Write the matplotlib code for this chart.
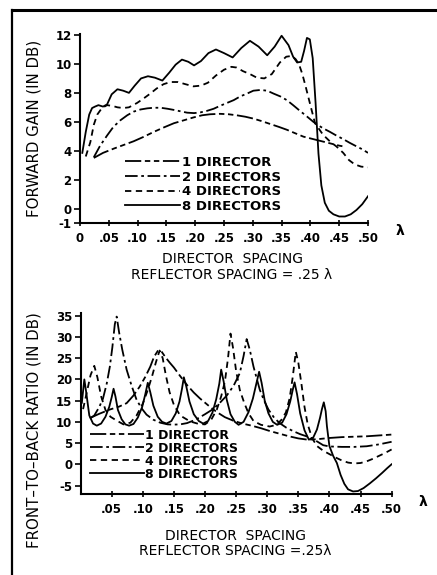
import matplotlib
matplotlib.use('Agg')
from matplotlib import pyplot as plt
from matplotlib.lines import Line2D

# ---- forward gain (top) ----
x1_gain = [0.024, 0.040, 0.059, 0.076, 0.093, 0.110, 0.128, 0.145, 0.163, 0.180, 0.197, 0.212,
           0.226, 0.243, 0.258, 0.272, 0.287, 0.301, 0.315, 0.330, 0.345, 0.359, 0.374, 0.388,
           0.400, 0.410, 0.425, 0.440, 0.450, 0.457]
y1_gain = [3.5, 3.85, 4.15, 4.4, 4.65, 4.95, 5.3, 5.6, 5.9, 6.1, 6.3, 6.45,
           6.52, 6.55, 6.52, 6.45, 6.35, 6.22, 6.05, 5.85, 5.65, 5.45, 5.2, 4.97,
           4.85, 4.75, 4.6, 4.45, 4.35, 4.3]

x2_gain = [0.024, 0.035, 0.047, 0.058, 0.070, 0.082, 0.093, 0.105, 0.117, 0.128, 0.140, 0.152,
           0.163, 0.175, 0.186, 0.198, 0.209, 0.220, 0.232, 0.243, 0.255, 0.267, 0.278, 0.290,
           0.301, 0.313, 0.325, 0.336, 0.348, 0.359, 0.370, 0.382, 0.393, 0.405, 0.414, 0.422,
           0.434, 0.445, 0.457, 0.468, 0.480, 0.490, 0.500]
y2_gain = [3.55, 4.35, 5.05, 5.65, 6.1, 6.45, 6.7, 6.85, 6.93, 6.97, 6.97, 6.9,
           6.82, 6.72, 6.63, 6.6, 6.65, 6.75, 6.9, 7.1, 7.3, 7.5, 7.75, 7.95,
           8.15, 8.2, 8.15, 7.95, 7.75, 7.5, 7.15, 6.75, 6.4, 6.0, 5.75, 5.55,
           5.3, 5.05, 4.8, 4.55, 4.3, 4.1, 3.85]

x4_gain = [0.010, 0.018, 0.024, 0.030, 0.038, 0.047, 0.056, 0.065, 0.075, 0.085, 0.099, 0.110,
           0.122, 0.133, 0.145, 0.157, 0.170, 0.183, 0.197, 0.210, 0.222, 0.236, 0.250, 0.263,
           0.272, 0.283, 0.295, 0.307, 0.320, 0.333, 0.347, 0.358, 0.367, 0.374, 0.380, 0.386,
           0.392, 0.399, 0.408, 0.422, 0.435, 0.445, 0.457, 0.467, 0.477, 0.488, 0.500]
y4_gain = [3.6, 4.6, 5.8, 6.5, 6.95, 7.15, 7.1, 7.0, 6.95, 7.0, 7.3, 7.6,
           7.95, 8.3, 8.6, 8.75, 8.75, 8.6, 8.45, 8.5, 8.7, 9.2, 9.6, 9.8,
           9.75, 9.5, 9.3, 9.05, 9.0, 9.3, 10.1, 10.5, 10.55, 10.35, 10.0, 9.3,
           8.4, 7.3, 5.9, 5.1, 4.6, 4.3, 3.85, 3.35, 3.05, 2.9, 2.85]

x8_gain = [0.004, 0.010, 0.016, 0.021, 0.026, 0.032, 0.040, 0.047, 0.055, 0.065, 0.075, 0.085,
           0.095, 0.106, 0.118, 0.130, 0.143, 0.155, 0.166, 0.177, 0.188, 0.198, 0.210, 0.223,
           0.236, 0.250, 0.265, 0.280, 0.295, 0.310, 0.325, 0.338, 0.350, 0.362, 0.370, 0.377,
           0.384, 0.389, 0.394, 0.399, 0.404, 0.409, 0.414, 0.419, 0.425, 0.432, 0.440, 0.450,
           0.460, 0.470, 0.480, 0.490, 0.500]
y8_gain = [3.85, 5.3, 6.5, 6.95, 7.05, 7.15, 7.05, 7.2, 7.9, 8.25, 8.15, 8.0,
           8.5, 9.0, 9.15, 9.05, 8.85, 9.4, 9.95, 10.3, 10.15, 9.9, 10.2, 10.75,
           11.0, 10.75, 10.45, 11.1, 11.6, 11.2, 10.6, 11.2, 11.95, 11.3, 10.5, 10.1,
           10.15, 10.9, 11.8, 11.7, 10.4, 7.3, 3.8, 1.6, 0.4, -0.15, -0.4, -0.55,
           -0.55, -0.4, -0.1, 0.3, 0.85]

# ---- front-to-back ratio (bottom) ----
x1_fb = [0.015, 0.030, 0.047, 0.062, 0.074, 0.085, 0.095, 0.104, 0.112, 0.118, 0.124, 0.130,
         0.136, 0.143, 0.150, 0.160, 0.171, 0.182, 0.192, 0.205, 0.219, 0.232, 0.245, 0.260,
         0.275, 0.290, 0.305, 0.320, 0.335, 0.350, 0.365, 0.380, 0.400, 0.420, 0.440, 0.460,
         0.480, 0.500]
y1_fb = [10.9, 11.9, 12.9, 13.6, 14.4, 16.2, 18.3, 20.6, 23.0, 25.3, 26.7, 26.6,
         25.3, 24.0, 22.8, 20.8, 18.7, 16.9, 15.5, 13.9, 12.3, 11.1, 10.3, 9.6,
         9.1, 8.5, 7.8, 7.2, 6.6, 6.1, 5.8, 5.9, 6.2, 6.4, 6.5, 6.6,
         6.8, 7.0]

x2_fb = [0.015, 0.022, 0.030, 0.036, 0.042, 0.047, 0.051, 0.055, 0.058, 0.062, 0.067, 0.074,
         0.082, 0.090, 0.098, 0.106, 0.117, 0.128, 0.140, 0.149, 0.160, 0.171, 0.185, 0.200,
         0.213, 0.224, 0.235, 0.246, 0.256, 0.262, 0.267, 0.272, 0.278, 0.288, 0.295, 0.302,
         0.311, 0.320, 0.331, 0.342, 0.353, 0.363, 0.372, 0.380, 0.390, 0.400, 0.420, 0.440,
         0.460, 0.480, 0.500]
y2_fb = [10.8, 11.5, 13.5, 15.5, 19.0, 23.0, 27.5, 33.0, 34.8, 31.0, 27.0, 22.3,
         18.5, 15.2, 13.2, 11.7, 10.5, 9.8, 9.4, 9.35, 9.4, 9.7, 10.5, 11.8,
         13.0, 14.5, 16.2, 18.5, 21.5, 25.5, 29.5, 27.0, 23.0, 17.6, 15.0, 12.9,
         11.0, 9.7, 8.6, 7.8, 7.1, 6.6, 6.1, 5.4, 4.5, 4.2, 4.1, 4.1,
         4.25, 4.7, 5.3]

x4_fb = [0.004, 0.010, 0.016, 0.022, 0.027, 0.033, 0.040, 0.048, 0.058, 0.069, 0.080, 0.090,
         0.100, 0.108, 0.115, 0.121, 0.127, 0.132, 0.137, 0.143, 0.150, 0.160, 0.176, 0.190,
         0.200, 0.210, 0.219, 0.226, 0.232, 0.237, 0.241, 0.245, 0.250, 0.256, 0.263, 0.270,
         0.278, 0.290, 0.304, 0.315, 0.323, 0.330, 0.336, 0.341, 0.346, 0.350, 0.355, 0.360,
         0.365, 0.372, 0.380, 0.390, 0.400, 0.410, 0.420, 0.430, 0.440, 0.450, 0.460, 0.470,
         0.480, 0.490, 0.500]
y4_fb = [13.0, 17.0, 21.0, 23.2, 20.5, 16.0, 12.8, 11.2, 10.3, 9.4, 9.8, 11.5,
         14.3, 17.5, 20.8, 24.0, 26.8, 25.0, 21.0, 17.0, 14.0, 11.5, 10.1, 9.5,
         9.4, 10.5, 12.9, 16.0, 19.5, 25.0, 30.8, 27.5, 22.0, 17.5, 14.5, 12.0,
         10.2, 9.3, 8.9, 9.3, 10.5, 12.2, 15.5, 20.5, 26.5, 24.0, 19.0, 13.5,
         9.5, 6.2, 4.3, 3.2, 2.4, 1.6, 0.9, 0.4, 0.2, 0.3, 0.7, 1.3,
         2.0, 2.7, 3.5]

x8_fb = [0.002, 0.006, 0.009, 0.014, 0.020, 0.026, 0.033, 0.040, 0.046, 0.050, 0.053, 0.056,
         0.060, 0.066, 0.072, 0.078, 0.085, 0.092, 0.099, 0.104, 0.108, 0.112, 0.117, 0.124,
         0.131, 0.138, 0.146, 0.153, 0.159, 0.163, 0.166, 0.170, 0.175, 0.182, 0.190, 0.197,
         0.205, 0.212, 0.218, 0.223, 0.226, 0.230, 0.235, 0.241, 0.248, 0.254, 0.262, 0.270,
         0.277, 0.283, 0.287, 0.291, 0.296, 0.302, 0.309, 0.316, 0.324, 0.331, 0.337, 0.341,
         0.344, 0.348, 0.353, 0.360, 0.367, 0.374, 0.380, 0.385, 0.388, 0.391, 0.394, 0.396,
         0.400, 0.406, 0.412, 0.418, 0.424, 0.430, 0.438, 0.446, 0.455, 0.465, 0.475, 0.485,
         0.493, 0.500]
y8_fb = [14.5, 20.0, 17.0, 11.5, 9.6, 9.1, 9.6, 11.2, 13.5, 15.8, 17.8, 16.0,
         12.8, 10.6, 9.4, 9.1, 9.5, 11.0, 13.5, 16.5, 19.2, 17.0, 13.8, 11.2,
         10.0, 9.6, 10.2, 12.0, 14.8, 17.8, 20.5, 18.3, 14.8, 11.8, 10.2, 9.6,
         10.2, 12.2, 15.3, 19.0, 22.3, 19.5, 15.2, 11.8, 10.0, 9.3, 10.0, 12.3,
         15.5, 19.3, 21.8, 19.2, 15.0, 12.0, 10.0, 9.3, 9.8, 11.8, 14.8, 17.5,
         19.3, 16.5, 12.0, 8.0, 5.8, 6.3, 8.2, 11.0, 13.0, 14.6, 12.5, 9.0,
         4.3, 2.0, 0.3, -2.5, -4.6, -5.9, -6.4, -6.3, -5.6, -4.5, -3.3, -2.0,
         -0.9, 0.0]

labels = ['1 DIRECTOR', '2 DIRECTORS', '4 DIRECTORS', '8 DIRECTORS']
styles = [(0, (9, 2, 3, 2, 3, 2)), (0, (7, 2, 1.5, 2)), (0, (3.5, 2.5)), '-']

gain_x_ticks = [0, 0.05, 0.10, 0.15, 0.20, 0.25, 0.30, 0.35, 0.40, 0.45, 0.50]
gain_x_labels = ['0', '.05', '.10', '.15', '.20', '.25', '.30', '.35', '.40', '.45', '.50']
gain_y_ticks = [-1, 0, 2, 4, 6, 8, 10, 12]
fb_x_ticks = gain_x_ticks[1:]
fb_x_labels = gain_x_labels[1:]
fb_y_ticks = [-5, 0, 5, 10, 15, 20, 25, 30, 35]

W, H = 437, 575
fig = plt.figure(figsize=(W / 100, H / 100), dpi=100)

ax1 = fig.add_axes([80 / W, 1 - 223 / H, 288 / W, (223 - 34.3) / H])
ax2 = fig.add_axes([80.6 / W, 1 - 494 / H, 311 / W, (494 - 313.2) / H])

gain = [(x1_gain, y1_gain), (x2_gain, y2_gain), (x4_gain, y4_gain), (x8_gain, y8_gain)]
fb = [(x1_fb, y1_fb), (x2_fb, y2_fb), (x4_fb, y4_fb), (x8_fb, y8_fb)]

for (xs, ys), ls, lab in zip(gain, styles, labels):
    ax1.plot(xs, ys, color='black', lw=1.3, linestyle=ls, label=lab)
for (xs, ys), ls, lab in zip(fb, styles, labels):
    ax2.plot(xs, ys, color='black', lw=1.3, linestyle=ls, label=lab)

tick_font = {'fontsize': 8.5, 'fontweight': 'bold'}

ax1.set_xlim(0, 0.5)
ax1.set_ylim(-1, 12.05)
ax1.set_xticks(gain_x_ticks)
ax1.set_xticklabels(gain_x_labels, **tick_font)
ax1.set_yticks(gain_y_ticks)
ax1.set_yticklabels([str(v) for v in gain_y_ticks], **tick_font)

ax2.set_xlim(0, 0.5)
ax2.set_ylim(-7, 35.6)
ax2.set_xticks(fb_x_ticks)
ax2.set_xticklabels(fb_x_labels, **tick_font)
ax2.set_yticks(fb_y_ticks)
ax2.set_yticklabels([str(v) for v in fb_y_ticks], **tick_font)

for ax in (ax1, ax2):
    for side in ('top', 'right'):
        ax.spines[side].set_visible(False)
    for side in ('left', 'bottom'):
        ax.spines[side].set_linewidth(1.5)
    ax.tick_params(axis='x', direction='inout', length=5, width=1.2, pad=4)
    ax.tick_params(axis='y', direction='out', length=4, width=1.2, pad=2)
    ax.set_facecolor('none')

ax1.set_ylabel('FORWARD GAIN (IN DB)', fontsize=10.8)
ax1.yaxis.set_label_coords(-0.135, 0.5)
ax2.set_ylabel('FRONT\u2013TO\u2013BACK RATIO (IN DB)', fontsize=10.8)
ax2.yaxis.set_label_coords(-0.127, 0.355)

ax1.set_xlabel('DIRECTOR  SPACING\nREFLECTOR SPACING = .25 \u03bb', fontsize=10, linespacing=1.2)
ax1.xaxis.set_label_coords(0.528, -0.155)
ax2.set_xlabel('DIRECTOR  SPACING\nREFLECTOR SPACING =.25\u03bb', fontsize=10, linespacing=1.1)
ax2.xaxis.set_label_coords(0.497, -0.195)

fig.text(400 / W, 1 - 231 / H, '\u03bb', fontsize=10, fontweight='bold', ha='center', va='center')
fig.text(423 / W, 1 - 502 / H, '\u03bb', fontsize=10, fontweight='bold', ha='center', va='center')

leg1 = ax1.legend(loc='upper left', bbox_to_anchor=(0.156, 0.355), frameon=False,
                  prop={'size': 9.5, 'weight': 'bold'}, handlelength=4.2, handletextpad=0.1,
                  labelspacing=0.12, borderpad=0, borderaxespad=0)
leg2 = ax2.legend(loc='upper left', bbox_to_anchor=(0.030, 0.362), frameon=False,
                  prop={'size': 9, 'weight': 'bold'}, handlelength=4.3, handletextpad=0.1,
                  labelspacing=0.0, borderpad=0, borderaxespad=0)

# scanned page border
fig.add_artist(Line2D([12 / W, 1.0], [1 - 10 / H, 1 - 10 / H], color='black', lw=2.2))
fig.add_artist(Line2D([12 / W, 12 / W], [0.0, 1 - 10 / H], color='black', lw=1.6))

fig.savefig('out.png', dpi=100)
plt.close(fig)
